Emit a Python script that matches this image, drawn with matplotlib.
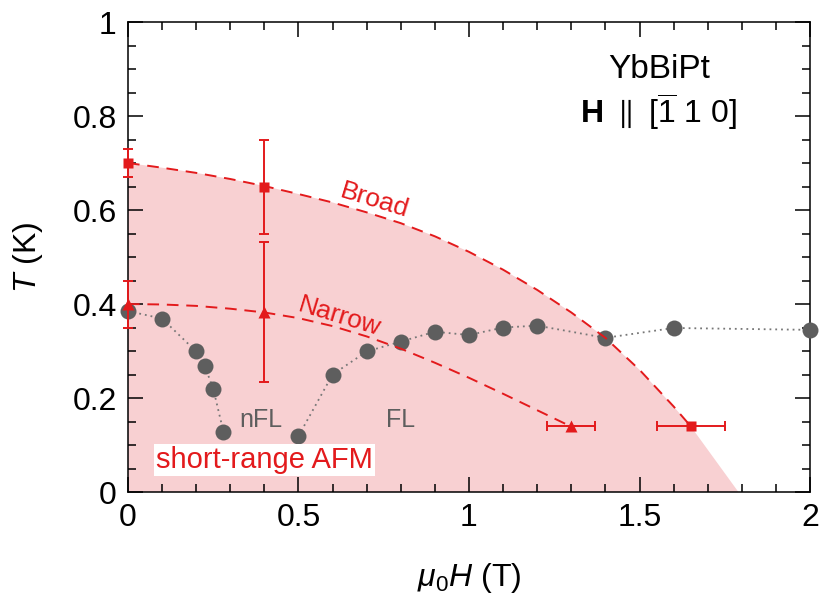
import matplotlib
matplotlib.use("Agg")
import matplotlib.pyplot as plt
from matplotlib.ticker import MultipleLocator, FormatStrFormatter

plt.rcParams['font.family'] = ['Liberation Sans', 'DejaVu Sans']
plt.rcParams['mathtext.fontset'] = 'custom'
plt.rcParams['mathtext.rm'] = 'Liberation Sans'
plt.rcParams['mathtext.it'] = 'Liberation Sans:italic'
plt.rcParams['mathtext.bf'] = 'Liberation Sans:bold'

# ---- data ----
# gray circles (two branches, dotted guide)
left_H = [0.0, 0.10, 0.20, 0.225, 0.25, 0.28]
left_T = [0.385, 0.369, 0.299, 0.268, 0.220, 0.128]
right_H = [0.50, 0.60, 0.70, 0.80, 0.90, 1.00, 1.10, 1.20, 1.40, 1.60, 2.00]
right_T = [0.119, 0.250, 0.299, 0.320, 0.341, 0.334, 0.350, 0.354, 0.328, 0.349, 0.345]

# Broad (squares)
broad_H = [0.0, 0.4, 1.65]
broad_T = [0.70, 0.65, 0.14]
broad_Terr = [0.03, 0.10, 0.0]
broad_Herr = [0.0, 0.0, 0.10]

# Narrow (triangles)
narrow_H = [0.0, 0.4, 1.3]
narrow_T = [0.40, 0.383, 0.14]
narrow_Terr = [0.05, 0.15, 0.0]
narrow_Herr = [0.0, 0.0, 0.07]

# dashed guide curves
broad_curve_H = [0.0, 0.1, 0.2, 0.3, 0.4, 0.5, 0.6, 0.7, 0.8, 0.9, 1.0, 1.1, 1.2, 1.3, 1.4, 1.5, 1.6, 1.65]
broad_curve_T = [0.700, 0.690, 0.679, 0.666, 0.651, 0.634, 0.616, 0.595, 0.572, 0.544,
                 0.511, 0.473, 0.430, 0.382, 0.328, 0.260, 0.182, 0.140]
narrow_curve_H = [0.0, 0.1, 0.2, 0.3, 0.4, 0.5, 0.6, 0.7, 0.8, 0.9, 1.0, 1.1, 1.2, 1.3]
narrow_curve_T = [0.400, 0.399, 0.396, 0.390, 0.382, 0.370, 0.353, 0.331, 0.305, 0.275,
                  0.243, 0.209, 0.174, 0.139]
# shaded region end on the field axis
afm_end_H = 1.79

RED = '#E31A1C'
PINK = '#F8D0D2'
GRAY = '#5E5E5E'

fig = plt.figure(figsize=(8.32, 6.0), dpi=100)
ax = fig.add_axes([0.1538, 0.18, 0.8198, 0.7833])

# shaded region
fill_H = broad_curve_H + [afm_end_H, 0.0]
fill_T = broad_curve_T + [0.0, 0.0]
ax.fill(fill_H, fill_T, color=PINK, lw=0, zorder=0)

# gray dotted + circles
for H, T in ((left_H, left_T), (right_H, right_T)):
    ax.plot(H, T, ls=(0, (1, 2.2)), color='#777777', lw=1.3, zorder=2)
    ax.plot(H, T, 'o', color=GRAY, ms=11.5, mec='none', zorder=3, clip_on=False)

# dashed curves
ax.plot(broad_curve_H, broad_curve_T, ls=(0, (6, 4)), color=RED, lw=1.4, zorder=4)
ax.plot(narrow_curve_H, narrow_curve_T, ls=(0, (6, 4)), color=RED, lw=1.4, zorder=4)

# red markers with error bars
ax.errorbar(broad_H, broad_T, yerr=broad_Terr, xerr=broad_Herr, fmt='s', color=RED,
            ms=7.5, mec='none', ecolor=RED, elinewidth=1.4, capsize=3.5, capthick=1.4,
            zorder=5, clip_on=False)
ax.errorbar(narrow_H, narrow_T, yerr=narrow_Terr, xerr=narrow_Herr, fmt='^', color=RED,
            ms=8.5, mec='none', ecolor=RED, elinewidth=1.4, capsize=3.5, capthick=1.4,
            zorder=5, clip_on=False)

# labels in plot
ax.text(0.724, 0.62, 'Broad', color=RED, fontsize=19, rotation=-17,
        ha='center', va='center', zorder=6)
ax.text(0.62, 0.372, 'Narrow', color=RED, fontsize=19, rotation=-17,
        ha='center', va='center', zorder=6)
ax.text(0.39, 0.153, 'nFL', color=GRAY, fontsize=18, ha='center', va='center', zorder=6)
ax.text(0.80, 0.153, 'FL', color=GRAY, fontsize=18, ha='center', va='center', zorder=6)
ax.text(0.40, 0.068, 'short-range AFM', color=RED, fontsize=21, ha='center', va='center',
        zorder=6, bbox=dict(facecolor='white', edgecolor='none', pad=1.5))
ax.text(1.557, 0.898, 'YbBiPt', color='black', fontsize=24, ha='center', va='center')
ax.text(1.557, 0.809, r'$\mathbf{H}$ $\parallel$ [$\overline{1}$ 1 0]', color='black',
        fontsize=23, ha='center', va='center')

ax.set_xlim(0, 2)
ax.set_ylim(0, 1)
ax.xaxis.set_major_locator(MultipleLocator(0.5))
ax.xaxis.set_minor_locator(MultipleLocator(0.1))
ax.yaxis.set_major_locator(MultipleLocator(0.2))
ax.yaxis.set_minor_locator(MultipleLocator(0.05))
ax.xaxis.set_major_formatter(FormatStrFormatter('%g'))
ax.yaxis.set_major_formatter(FormatStrFormatter('%g'))
ax.tick_params(which='both', direction='in', top=True, right=True, width=1.1,
               labelsize=23, colors='black')
ax.tick_params(which='major', length=10.5, pad=8)
ax.tick_params(which='minor', length=6)
for s in ax.spines.values():
    s.set_linewidth(1.1)

ax.set_xlabel(r'$\mu_0 H$ (T)', fontsize=23, labelpad=20)
ax.set_ylabel(r'$T$ (K)', fontsize=23, labelpad=20)

fig.savefig('out.png', dpi=100)
